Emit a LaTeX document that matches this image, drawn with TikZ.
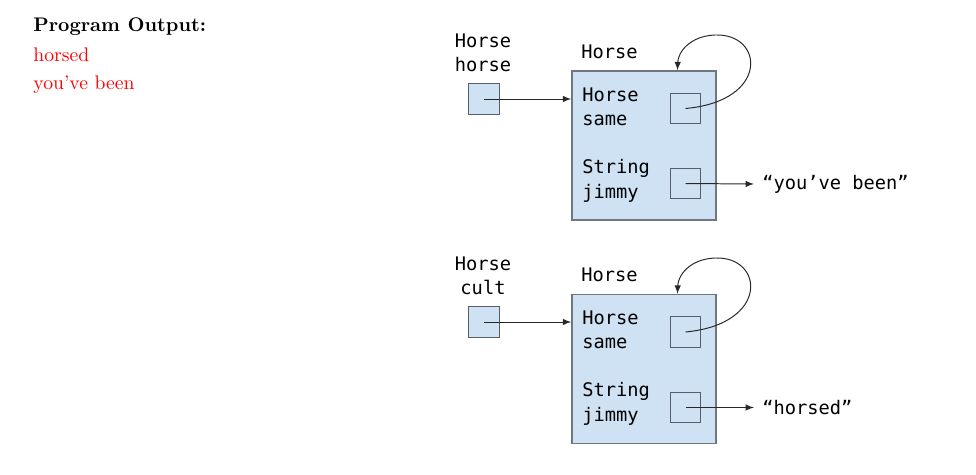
\documentclass[tikz,border=0pt]{standalone}
\usepackage{fontspec}
\setmonofont{DejaVu Sans Mono}
\usepackage{tikz}
\usetikzlibrary{arrows}
\definecolor{boxblue}{RGB}{207,226,243}
\definecolor{boxedge}{RGB}{110,120,130}
\definecolor{refedge}{RGB}{85,95,105}
\definecolor{arrowgray}{RGB}{40,40,40}
\tikzset{
varlab/.style={
  anchor=north west,
  inner sep=0pt,
  align=left,
  font=\ttfamily\fontsize{9.5}{12.6}\selectfont
  },
reflab/.style={
  varlab,
  anchor=north,
  align=center
  },
refbox/.style={
  draw=refedge,
  fill=boxblue,
  line width=0.7pt,
  minimum width=15.5pt,
  minimum height=15.5pt,
  inner sep=0pt
  },
objbox/.style={
  draw=boxedge,
  fill=boxblue,
  line width=0.7pt,
  minimum width=73.2pt,
  minimum height=75.7pt,
  inner sep=0pt
  },
strval/.style={
  anchor=west,
  inner sep=4pt,
  font=\ttfamily\fontsize{9.5}{12}\selectfont
  },
outline/.style={
  anchor=base west,
  inner sep=0pt
  }
}

\begin{document}
\begin{tikzpicture}[>=latex, x=0.508pt, y=-0.508pt]
\useasboundingbox (0,0) rectangle (976,474);

% program output
\node[outline, font=\bfseries] at (33,32) (outhead) {Program Output:};
\node[outline, text=red] at (33,61) (out1) {horsed};
\node[outline, text=red] at (33,89) (out2) {you’ve been};

% first object
\node[reflab] at (483,33) (horselab) {Horse\\horse};
\node[refbox] at (484,99) (horsebox) {};
\node[varlab] at (581,44) (objtypeA) {Horse};
\node[objbox] at (644,145.5) (objA) {};
\node[varlab] at (582,87) (sameA) {Horse\\same};
\node[refbox] at (685.5,108.5) (sameboxA) {};
\node[varlab] at (582,159) (jimmyA) {String\\jimmy};
\node[refbox] at (685.5,183.5) (jimmyboxA) {};
\node[strval] at (754,184) (valA) {“you’ve been”};

% second object
\node[reflab] at (483,256) (cultlab) {Horse\\cult};
\node[refbox] at (484,322) (cultbox) {};
\node[varlab] at (581,267) (objtypeB) {Horse};
\node[objbox] at (644,369) (objB) {};
\node[varlab] at (582,310) (sameB) {Horse\\same};
\node[refbox] at (685.5,332) (sameboxB) {};
\node[varlab] at (582,382) (jimmyB) {String\\jimmy};
\node[refbox] at (685.5,407.5) (jimmyboxB) {};
\node[strval] at (754,407.5) (valB) {“horsed”};

\begin{scope}[draw=arrowgray, line width=0.5pt]
\draw[->]
  (horsebox.center) -- (horsebox.center -| objA.west);
\draw[->]
  (jimmyboxA.center) -- (valA.west);
\draw[->]
  (sameboxA.center) .. controls (770,101) and (764,33) .. (715,35)
  .. controls (690,36) and (678,52) .. ([xshift=17pt]objA.north);
\draw[->]
  (cultbox.center) -- (cultbox.center -| objB.west);
\draw[->]
  (jimmyboxB.center) -- (valB.west);
\draw[->]
  (sameboxB.center) .. controls (770,324) and (764,256) .. (715,258)
  .. controls (690,259) and (678,275) .. ([xshift=17pt]objB.north);
\end{scope}
\end{tikzpicture}
\end{document}
